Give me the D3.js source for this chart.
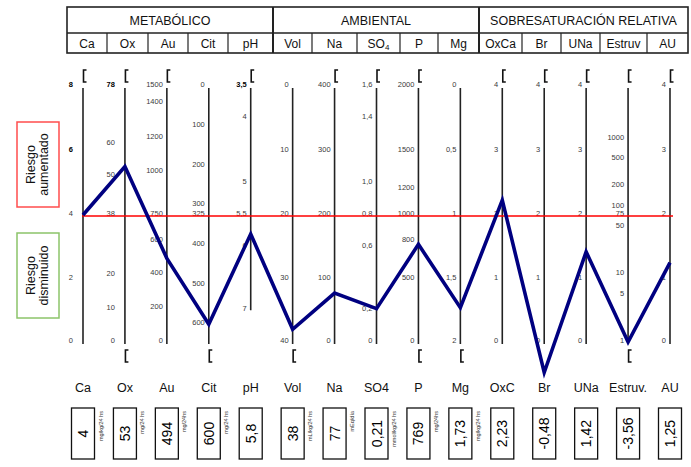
<!DOCTYPE html>
<html>
<head>
<meta charset="utf-8">
<script src="https://cdn.jsdelivr.net/npm/d3@7"></script>
<style>
  body { margin: 0; background: #fff; }
  text { font-family: "Liberation Sans", Arial, sans-serif; }
</style>
</head>
<body>
<div id="chart"></div>
<script>
const WIDTH = 691;
const HEIGHT = 467;

// ---- data ----
const axisNames = ["Ca", "Ox", "Au", "Cit", "pH", "Vol", "Na", "SO4", "P", "Mg", "OxC", "Br", "UNa", "Estruv.", "AU"];
const headerNames = ["Ca", "Ox", "Au", "Cit", "pH", "Vol", "Na", "SO4", "P", "Mg", "OxCa", "Br", "UNa", "Estruv", "AU"];
const groups = ["METABÓLICO", "AMBIENTAL", "SOBRESATURACIÓN RELATIVA"];
const values = [4, 53, 494, 600, 5.8, 38, 77, 0.21, 769, 1.73, 2.23, -0.48, 1.42, -3.56, 1.25];
const units = ["mg/kg/24 hs", "mg/24 hs", "mg/24hs", "mg/24 hs", "", "mL/kg/24 hs", "mEq/día",
  "mmol/kg/24 hs", "mg/24hs", "mg/kg/24 hs", "", "", "", "", ""];
// value at the top of each axis, at the red line, and at the bottom of the axis
const topValues = [8, 78, 1500, 0, 3.5, 0, 400, 1.6, 2000, 0, 4, 4, 4, null, 4];
const refValues = [4, 38, 750, 325, 5.5, 20, 200, 0.8, 1000, 1, 2, 2, 2, 75, 2];
const bottomValues = [0, 0, 0, 645, 7.5, 40, 0, 0, 0, 2, 0, 0, 0, 1, 0];
const axisEnd = [null, null, null, null, 7, null, null, null, null, null, null, null, null, null, null];
const logAxis = "Estruv.";
const tickLabels = [
  ["8", "6", "4", "2", "0"],
  ["78", "60", "50", "38", "20", "10", "0"],
  ["1500", "1400", "1200", "1000", "750", "600", "400", "200", "0"],
  ["0", "100", "200", "300", "325", "400", "500", "600"],
  ["3,5", "4", "5", "5,5", "6", "7"],
  ["0", "10", "20", "30", "40"],
  ["400", "300", "200", "100", "0"],
  ["1,6", "1,4", "1,0", "0,8", "0,6", "0,2", "0"],
  ["2000", "1500", "1200", "1000", "800", "500", "0"],
  ["0", "0,5", "1", "1,5", "2"],
  ["4", "3", "2", "1", "0"],
  ["4", "3", "2", "1", "0"],
  ["4", "3", "2", "1", "0"],
  ["1000", "500", "200", "100", "75", "50", "10", "5", "1"],
  ["4", "3", "2", "1", "0"]
];
const boldTicks = [["8", "6"], ["78"], [], [], ["3,5"], [], [], [], [], [], [], [], [], [], []];
const topBracket = [1, 1, 1, 0, 1, 0, 1, 1, 1, 0, 1, 1, 1, 1, 1];
const bottomBracket = [0, 1, 0, 1, 0, 1, 0, 0, 1, 1, 0, 0, 0, 1, 0];

// ---- layout ----
const Y_TOP = 86, Y_REF = 215, Y_BOT = 342;
const headerEdges = [67, 107, 148, 188, 228, 273, 312, 357, 400, 438, 479, 522, 561, 600, 647, 688];
const HEAD = { top: 7, mid: 33, bottom: 53 };

const locale = d3.formatLocale({ decimal: ",", thousands: ".", grouping: [3], currency: ["", ""], minus: "-" });
const fmt = locale.format("");
const parseTick = s => +s.replace(",", ".");

const x = d3.scalePoint().domain(axisNames).range([83, 670]);

const yScales = axisNames.map((name, i) => {
  if (name === logAxis) {
    return d3.scaleLog().domain([bottomValues[i], refValues[i]]).range([Y_BOT, Y_REF]);
  }
  return d3.scaleLinear()
    .domain([topValues[i], refValues[i], bottomValues[i]])
    .range([Y_TOP, Y_REF, Y_BOT]);
});

const yOf = (i, v) => axisNames[i] === logAxis ? yScales[i](Math.max(v, bottomValues[i])) : yScales[i](v);

const svg = d3.select("#chart").append("svg")
  .attr("width", WIDTH)
  .attr("height", HEIGHT);

// ---- header table ----
const head = svg.append("g");
head.selectAll("text.group")
  .data(groups)
  .enter()
  .append("text")
  .attr("class", "group")
  .attr("x", (d, i) => (headerEdges[i * 5] + headerEdges[i * 5 + 5]) / 2)
  .attr("y", (HEAD.top + HEAD.mid) / 2 + 4.5)
  .attr("text-anchor", "middle")
  .attr("font-size", 12.5)
  .attr("fill", "#111")
  .text(d => d);

const sub = head.selectAll("text.sub")
  .data(headerNames)
  .enter()
  .append("text")
  .attr("class", "sub")
  .attr("x", (d, i) => (headerEdges[i] + headerEdges[i + 1]) / 2)
  .attr("y", (HEAD.mid + HEAD.bottom) / 2 + 4.5)
  .attr("text-anchor", "middle")
  .attr("font-size", 12)
  .attr("fill", "#111");
sub.each(function (d) {
  const t = d3.select(this);
  if (d === "SO4") {
    t.append("tspan").text("SO");
    t.append("tspan").attr("font-size", 8).attr("dy", 2).text("4");
  } else {
    t.text(d);
  }
});

head.append("rect")
  .attr("x", headerEdges[0])
  .attr("y", HEAD.top)
  .attr("width", headerEdges[headerEdges.length - 1] - headerEdges[0])
  .attr("height", HEAD.bottom - HEAD.top)
  .attr("fill", "none")
  .attr("stroke", "#222")
  .attr("stroke-width", 1.6);

head.append("line")
  .attr("x1", headerEdges[0]).attr("x2", headerEdges[headerEdges.length - 1])
  .attr("y1", HEAD.mid).attr("y2", HEAD.mid)
  .attr("stroke", "#222").attr("stroke-width", 1.3);

head.selectAll("line.div")
  .data(headerEdges.slice(1, -1))
  .enter()
  .append("line")
  .attr("class", "div")
  .attr("x1", d => d).attr("x2", d => d)
  .attr("y1", (d, i) => (i + 1) % 5 === 0 ? HEAD.top : HEAD.mid)
  .attr("y2", HEAD.bottom)
  .attr("stroke", "#222")
  .attr("stroke-width", (d, i) => (i + 1) % 5 === 0 ? 2 : 1.2);

// ---- risk boxes on the left ----
const riskBoxes = [
  { lines: ["Riesgo", "aumentado"], y0: 122, y1: 207, color: "#ff4d4d" },
  { lines: ["Riesgo", "disminuido"], y0: 233, y1: 318, color: "#8cc46a" }
];
riskBoxes.forEach(b => {
  svg.append("rect")
    .attr("x", 17).attr("y", b.y0)
    .attr("width", 42).attr("height", b.y1 - b.y0)
    .attr("fill", "none")
    .attr("stroke", b.color)
    .attr("stroke-width", 1.5);
  const cy = (b.y0 + b.y1) / 2;
  b.lines.forEach((l, k) => {
    svg.append("text")
      .attr("transform", `translate(${35 + k * 13}, ${cy}) rotate(-90)`)
      .attr("text-anchor", "middle")
      .attr("font-size", 12.5)
      .attr("fill", "#111")
      .text(l);
  });
});

// ---- parallel axes ----
const axes = svg.selectAll("g.axis")
  .data(axisNames)
  .enter()
  .append("g")
  .attr("class", "axis")
  .attr("transform", d => `translate(${x(d)}, 0)`);

axes.append("line")
  .attr("x1", 0).attr("x2", 0)
  .attr("y1", Y_TOP + 2)
  .attr("y2", (d, i) => axisEnd[i] !== null ? yOf(i, axisEnd[i]) : Y_BOT + 2)
  .attr("stroke", "#222")
  .attr("stroke-width", 1.6);

axes.each(function (name, i) {
  const g = d3.select(this);
  const gap = (i === 0 || i === 1) ? 10 : 4;
  g.selectAll("text.tick")
    .data(tickLabels[i])
    .enter()
    .append("text")
    .attr("class", "tick")
    .attr("x", -gap)
    .attr("y", s => yOf(i, parseTick(s)))
    .attr("dy", "0.15em")
    .attr("text-anchor", "end")
    .attr("font-size", 7.5)
    .attr("font-weight", s => boldTicks[i].includes(s) ? "bold" : "normal")
    .attr("fill", s => boldTicks[i].includes(s) ? "#000" : "#3a3a3a")
    .text(s => s);

  const bracket = (y0, y1) => `M3.5,${y0} H0.5 V${y1} H3.5`;
  if (topBracket[i]) {
    g.append("path").attr("d", bracket(70, 82))
      .attr("fill", "none").attr("stroke", "#111").attr("stroke-width", 1.6);
  }
  if (bottomBracket[i]) {
    g.append("path").attr("d", bracket(350, 362))
      .attr("fill", "none").attr("stroke", "#111").attr("stroke-width", 1.6);
  }
});

// ---- reference line ----
svg.append("line")
  .attr("x1", x(axisNames[0]) - 1)
  .attr("x2", x(axisNames[axisNames.length - 1]) + 3)
  .attr("y1", Y_REF + 1).attr("y2", Y_REF + 1)
  .attr("stroke", "#ff0000")
  .attr("stroke-width", 1.3);

// ---- patient profile ----
const line = d3.line()
  .x((d, i) => x(axisNames[i]))
  .y((d, i) => yOf(i, d));

svg.append("path")
  .datum(values)
  .attr("d", line)
  .attr("fill", "none")
  .attr("stroke", "#000080")
  .attr("stroke-width", 3.6)
  .attr("stroke-linejoin", "miter");

// ---- bottom labels and value boxes ----
svg.selectAll("text.name")
  .data(axisNames)
  .enter()
  .append("text")
  .attr("class", "name")
  .attr("x", d => x(d))
  .attr("y", 392)
  .attr("text-anchor", "middle")
  .attr("font-size", 12.5)
  .attr("fill", "#111")
  .text(d => d);

const BOX = { w: 23, y0: 408, y1: 459 };
const boxes = svg.selectAll("g.vbox")
  .data(values)
  .enter()
  .append("g")
  .attr("class", "vbox")
  .attr("transform", (d, i) => `translate(${x(axisNames[i])}, 0)`);

boxes.append("rect")
  .attr("x", -BOX.w / 2)
  .attr("y", BOX.y0)
  .attr("width", BOX.w)
  .attr("height", BOX.y1 - BOX.y0)
  .attr("fill", "#fff")
  .attr("stroke", "#111")
  .attr("stroke-width", 1.3);

boxes.append("text")
  .attr("transform", `translate(5, ${(BOX.y0 + BOX.y1) / 2}) rotate(-90)`)
  .attr("text-anchor", "middle")
  .attr("font-size", 14)
  .attr("fill", "#000")
  .text(d => fmt(d));

boxes.append("text")
  .attr("transform", `translate(${BOX.w / 2 + 8}, ${BOX.y0 + 3}) rotate(-90)`)
  .attr("text-anchor", "end")
  .attr("font-size", 5.5)
  .attr("fill", "#333")
  .text((d, i) => units[i]);
</script>
</body>
</html>
